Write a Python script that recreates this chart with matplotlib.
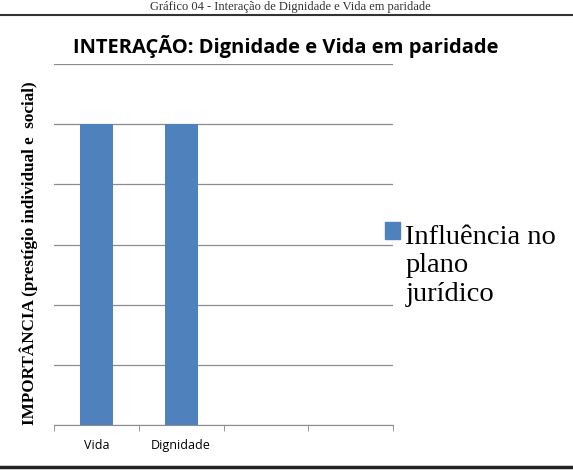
import matplotlib.pyplot as plt
from matplotlib.lines import Line2D
from matplotlib.patches import Patch, Rectangle
from matplotlib.legend_handler import HandlerPatch

categorias = ['Vida', 'Dignidade', '', '']
valores = [5, 5, 0, 0]
serie = 'Influência no\nplano\njurídico'

fig = plt.figure(figsize=(5.73, 4.75), dpi=100)
W, H = 573, 475
ax = fig.add_axes([54 / W, 1 - 425 / H, (393 - 54) / W, (425 - 64) / H])

x = range(len(categorias))
ax.bar(x, valores, width=0.39, color='#4F81BD', zorder=3)
ax.set_xlim(-0.5, len(categorias) - 0.5)
ax.set_ylim(0, 6)
ax.set_yticks(range(0, 7))
ax.set_yticklabels([])
ax.tick_params(axis='y', length=0)
ax.grid(axis='y', color='#8c8c8c', linewidth=0.9, zorder=0)

ax.set_xticks(x)
ax.set_xticklabels(categorias, fontsize=9, family='Open Sans')
ax.tick_params(axis='x', length=0, pad=10)
ax.set_xticks([i - 0.5 for i in range(len(categorias) + 1)], minor=True)
ax.tick_params(axis='x', which='minor', length=4, color='#8c8c8c', direction='out')
for s in ['top', 'right', 'left']:
    ax.spines[s].set_visible(False)
ax.spines['bottom'].set_color('#8c8c8c')

ax.set_ylabel('IMPORTÂNCIA (prestígio individual e  social)', family='Liberation Serif',
              fontweight='bold', fontsize=12.3)
ax.yaxis.set_label_coords(-16 / (393 - 54), 0.475)

fig.text(286 / W, 1 - 46 / H, 'INTERAÇÃO: Dignidade e Vida em paridade', ha='center', va='center',
         fontsize=14.5, fontweight='bold', family='Open Sans')


# put the legend square next to the first line of the label
def quadrado(legend, orig_handle, xdescent, ydescent, width, height, fontsize):
    return Rectangle((-xdescent, -ydescent + 1.22 * fontsize), width, height)


leg = fig.legend([Patch(color='#4F81BD')], [serie], loc='upper left',
                 bbox_to_anchor=(359 / W, 1 - 199 / H), frameon=False,
                 prop={'family': 'Liberation Serif', 'size': 20.5},
                 handlelength=0.53, handleheight=0.53, handletextpad=0.2,
                 handler_map={Patch: HandlerPatch(patch_func=quadrado)})
for t in leg.get_texts():
    t.set_linespacing(1.2)

# caption and page lines
fig.text(290 / W, 1 - 1 / H, 'Gráfico 04 - Interação de Dignidade e Vida em paridade',
         ha='center', va='top', fontsize=9, family='Liberation Serif', color='#333333')
fig.add_artist(Line2D([0, 1], [1 - 15 / H, 1 - 15 / H], color='#333333', linewidth=1.5,
                      transform=fig.transFigure))
fig.add_artist(Line2D([0, 1], [1 - 467 / H, 1 - 467 / H], color='#222222', linewidth=2.5,
                      transform=fig.transFigure))

fig.savefig('out.png', dpi=100)
